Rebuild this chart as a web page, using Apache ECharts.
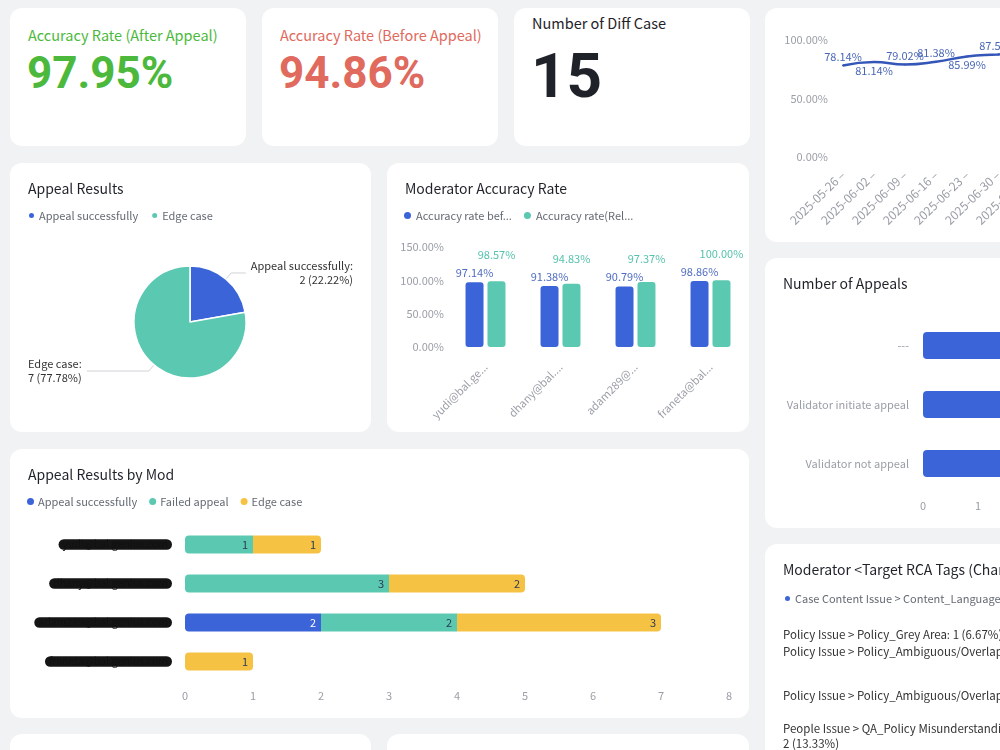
<!DOCTYPE html>
<html>
<head>
<meta charset="utf-8">
<script src="https://cdn.jsdelivr.net/npm/echarts@6.0.0/dist/echarts.min.js"></script>
<style>
html, body { margin: 0; padding: 0; width: 1000px; height: 750px; overflow: hidden; background: #f1f2f4; }
body { position: relative; font-family: "Noto Sans CJK SC", "Noto Sans", sans-serif; }
.card { position: absolute; background: #fff; border-radius: 12px; overflow: hidden; }
.chart { position: absolute; left: 0; top: 0; width: 100%; height: 100%; }
.kpi-title { position: absolute; left: 18px; font-size: 14.5px; white-space: nowrap; }
.kpi-value { position: absolute; left: 17px; font-family: Roboto, "Liberation Sans", sans-serif; font-weight: 700; line-height: 1; white-space: nowrap; }
</style>
</head>
<body>

<div class="card" style="left:10px;top:8px;width:236px;height:138px">
  <div class="kpi-title" style="top:16px;color:#4cb93d">Accuracy Rate (After Appeal)</div>
  <div class="kpi-value" id="kpiAfter" style="top:43px;font-size:44px;color:#4cb93d"></div>
</div>
<div class="card" style="left:262px;top:8px;width:236px;height:138px">
  <div class="kpi-title" style="top:16px;color:#e06a5e">Accuracy Rate (Before Appeal)</div>
  <div class="kpi-value" id="kpiBefore" style="top:43px;font-size:44px;color:#e06a5e"></div>
</div>
<div class="card" style="left:514px;top:8px;width:236px;height:138px">
  <div class="kpi-title" style="top:4px;color:#1f2329">Number of Diff Case</div>
  <div class="kpi-value" id="kpiDiff" style="top:37px;font-size:62px;color:#1f2329"></div>
</div>

<div class="card" style="left:765px;top:8px;width:300px;height:234px"><div class="chart" id="weekly"></div></div>
<div class="card" style="left:10px;top:163px;width:361px;height:269px"><div class="chart" id="appealPie"></div></div>
<div class="card" style="left:387px;top:163px;width:362px;height:269px"><div class="chart" id="modRate"></div></div>
<div class="card" style="left:765px;top:258px;width:520px;height:270px"><div class="chart" id="appealCount"></div></div>
<div class="card" style="left:10px;top:449px;width:739px;height:269px"><div class="chart" id="byMod"></div></div>
<div class="card" style="left:765px;top:544px;width:620px;height:270px"><div class="chart" id="rcaPie"></div></div>
<div class="card" style="left:10px;top:734px;width:361px;height:200px"></div>
<div class="card" style="left:387px;top:734px;width:362px;height:200px"></div>

<script>
// KPI values
const accAfter = '97.95%';
const accBefore = '94.86%';
const diffCases = 15;

// weekly accuracy trend
const weeks = ['2025-05-26', '2025-06-02', '2025-06-09', '2025-06-16', '2025-06-23', '2025-06-30', '2025-07-07'];
const weekRate = [78.14, 81.14, 79.02, 81.38, 85.99, 87.56, 89.40];

// appeal results pie
const appealNames = ['Appeal successfully', 'Edge case'];
const appealValues = [2, 7];

// moderator accuracy
const mods = ['yudi@bal.genius.com', 'dhany@bal.genius.com', 'adam289@bal.genius.com', 'franeta@bal.genius.com'];
const rateBefore = [97.14, 91.38, 90.79, 98.86];
const rateAfter = [98.57, 94.83, 97.37, 100.00];

// appeal results by mod
const resultNames = ['Appeal successfully', 'Failed appeal', 'Edge case'];
const modSuccess = [0, 0, 2, 0];
const modFailed = [1, 3, 2, 0];
const modEdge = [1, 2, 3, 1];

// number of appeals
const appealTypes = ['Validator not appeal', 'Validator initiate appeal', '---'];
const appealTypeCount = [5, 6, 4];

// RCA tags
const rcaNames = [
  'Case Content Issue > Content_Language Barrier',
  'Case Content Issue > Content_Unclear Evidence',
  'People Issue > QA_Policy Misunderstanding',
  'Policy Issue > Policy_Ambiguous/Overlapping Policy',
  'Policy Issue > Policy_Ambiguous/Overlapping Guideline',
  'Policy Issue > Policy_Grey Area'
];
const rcaValues = [5, 3, 2, 2, 2, 1];

const FONT = '"Noto Sans CJK SC", "Noto Sans", sans-serif';
const BLUE = '#3b64d9';
const TEAL = '#5bc9b1';
const YELLOW = '#f6c244';
const AXIS_GRAY = '#9a9ea6';

document.getElementById('kpiAfter').textContent = accAfter;
document.getElementById('kpiBefore').textContent = accBefore;
document.getElementById('kpiDiff').textContent = diffCases;

function cardTitle(text) {
  return { text: text, left: 13, top: 14, textStyle: { fontSize: 14, fontWeight: 'normal', color: '#1f2329', fontFamily: FONT } };
}
function cardLegend(extra) {
  return Object.assign({
    left: 12, top: 42, icon: 'circle', itemWidth: 7, itemHeight: 7, itemGap: 12,
    textStyle: { fontSize: 11, color: '#646a73', fontFamily: FONT, padding: [0, 0, 0, -1] }
  }, extra || {});
}
const pct = v => Number(v).toFixed(2) + '%';

// weekly trend
const weekly = echarts.init(document.getElementById('weekly'));
const lineLabelSide = ['top', 'bottom', 'top', 'top', 'bottom', 'top', 'top'];
weekly.setOption({
  textStyle: { fontFamily: FONT },
  animation: false,
  grid: { left: 78, top: 32, width: 186, height: 117 },
  xAxis: {
    type: 'category', data: weeks, boundaryGap: false,
    axisLine: { show: false }, axisTick: { show: false },
    axisLabel: { rotate: 44, interval: 0, fontSize: 12, color: AXIS_GRAY, margin: 16, formatter: v => v + ' –' }
  },
  yAxis: {
    type: 'value', min: 0, max: 100, interval: 50,
    splitLine: { show: false },
    axisLabel: { formatter: pct, color: AXIS_GRAY, fontSize: 11, margin: 15 }
  },
  series: [{
    type: 'line', smooth: true, symbol: 'circle', symbolSize: 2,
    data: weekRate.map((v, i) => ({ value: v, label: { position: lineLabelSide[i] } })),
    lineStyle: { width: 2.5, color: '#3456b8' },
    itemStyle: { color: '#3456b8' },
    label: { show: true, fontSize: 11, color: '#4a67b5', distance: 2, formatter: p => pct(p.value) }
  }]
});

// appeal results pie
const appealPie = echarts.init(document.getElementById('appealPie'));
appealPie.setOption({
  textStyle: { fontFamily: FONT },
  animation: false,
  color: [BLUE, TEAL],
  title: cardTitle('Appeal Results'),
  legend: cardLegend(),
  series: [{
    type: 'pie', radius: 56, center: [180, 159], startAngle: 90,
    itemStyle: { borderColor: '#fff', borderWidth: 1.5 },
    data: appealNames.map((n, i) => ({ name: n, value: appealValues[i] })),
    label: { formatter: '{b}:\n{c} ({d}%)', fontSize: 11, color: '#333', lineHeight: 14, alignTo: 'edge', edgeDistance: 18 },
    labelLine: { length: 8, length2: 10, lineStyle: { color: '#d0d3d8' } }
  }]
});

// moderator accuracy rate; the second label sits above the first one
const modRate = echarts.init(document.getElementById('modRate'));
const barLabel = color => ({ show: true, position: 'top', fontSize: 11, color: color, distance: 4, formatter: p => pct(p.value) });
modRate.setOption({
  textStyle: { fontFamily: FONT },
  animation: false,
  title: cardTitle('Moderator Accuracy Rate'),
  legend: cardLegend({ textStyle: { fontSize: 11, color: '#646a73', fontFamily: FONT, width: 100, overflow: 'truncate' } }),
  grid: { left: 61, top: 84, width: 300, height: 100 },
  xAxis: {
    type: 'category', data: mods,
    axisLine: { show: false }, axisTick: { show: false },
    axisLabel: { rotate: 45, interval: 0, fontSize: 11, color: AXIS_GRAY, margin: 18, width: 74, overflow: 'truncate' }
  },
  yAxis: {
    type: 'value', min: 0, max: 150, interval: 50,
    splitLine: { show: false },
    axisLabel: { formatter: pct, color: AXIS_GRAY, fontSize: 11, margin: 4 }
  },
  series: [
    { name: 'Accuracy rate before appeal', type: 'bar', data: rateBefore, barWidth: 18, barGap: '22%',
      itemStyle: { color: BLUE, borderRadius: 3 }, label: barLabel('#4f6cc0') },
    { name: 'Accuracy rate(Relative after appeal)', type: 'bar', barWidth: 18,
      data: rateAfter.map((v, i) => ({ value: v, label: { distance: Math.max(5, 22 + (rateBefore[i] - v) * 0.667) } })),
      itemStyle: { color: TEAL, borderRadius: 3 }, label: barLabel('#55c2ad') }
  ]
});

// appeal results by mod (stacked, rounded at the ends of each row)
const byMod = echarts.init(document.getElementById('byMod'));
const stacks = [modSuccess, modFailed, modEdge];
const stackColors = [BLUE, TEAL, YELLOW];
function roundedStack(k) {
  return stacks[k].map((v, row) => {
    const present = stacks.map(s => s[row] > 0);
    const first = present.indexOf(true);
    const last = present.lastIndexOf(true);
    const r = 4;
    const radius = [k === first ? r : 0, k === last ? r : 0, k === last ? r : 0, k === first ? r : 0];
    return { value: v, itemStyle: { borderRadius: radius } };
  });
}
byMod.setOption({
  textStyle: { fontFamily: FONT },
  animation: false,
  title: cardTitle('Appeal Results by Mod'),
  legend: cardLegend(),
  grid: { left: 175, top: 76, width: 544, height: 156 },
  xAxis: {
    type: 'value', min: 0, max: 8, interval: 1,
    splitLine: { show: false },
    axisLabel: { color: AXIS_GRAY, fontSize: 11, margin: 9 }
  },
  yAxis: {
    type: 'category', data: mods, inverse: true,
    axisLine: { show: false }, axisTick: { show: false },
    axisLabel: { fontSize: 10.5, color: '#111', backgroundColor: '#151515', borderRadius: 6, padding: [0, 4], margin: 13 }
  },
  series: resultNames.map((n, k) => ({
    name: n, type: 'bar', stack: 'all', barWidth: 18,
    data: roundedStack(k),
    itemStyle: { color: stackColors[k] },
    label: { show: true, position: 'insideRight', fontSize: 11, color: k === 0 ? '#fff' : '#2b3a55', formatter: p => p.value > 0 ? p.value : '' }
  }))
});

// number of appeals
const appealCount = echarts.init(document.getElementById('appealCount'));
appealCount.setOption({
  textStyle: { fontFamily: FONT },
  animation: false,
  title: cardTitle('Number of Appeals'),
  grid: { left: 158, top: 58, width: 330, height: 177 },
  xAxis: {
    type: 'value', min: 0, max: 6, interval: 1,
    splitLine: { show: false },
    axisLabel: { color: AXIS_GRAY, fontSize: 11, margin: 7 }
  },
  yAxis: {
    type: 'category', data: appealTypes,
    axisLine: { show: false }, axisTick: { show: false },
    axisLabel: { color: AXIS_GRAY, fontSize: 11, margin: 14 }
  },
  series: [{ type: 'bar', data: appealTypeCount, barWidth: 27, itemStyle: { color: BLUE, borderRadius: 4 } }]
});

// RCA tags pie; the People label puts its count on a second line
const rcaPie = echarts.init(document.getElementById('rcaPie'));
const rcaTotal = rcaValues.reduce((a, b) => a + b, 0);
const rcaLabel = p => {
  const share = p.value + ' (' + (p.value / rcaTotal * 100).toFixed(2) + '%)';
  return p.name.indexOf('People') === 0 ? p.name + ':\n' + share : p.name + ': ' + share;
};
rcaPie.setOption({
  textStyle: { fontFamily: FONT },
  animation: false,
  color: [BLUE, TEAL, YELLOW, '#f08a5d', '#8d6ad8', '#e5627c'],
  title: cardTitle('Moderator <Target RCA Tags (Changed)'),
  legend: cardLegend({ type: 'scroll', left: 13 }),
  series: [{
    type: 'pie', radius: 45, center: [420, 146], startAngle: 90,
    itemStyle: { borderColor: '#fff', borderWidth: 1 },
    data: rcaNames.map((n, i) => ({ name: n, value: rcaValues[i] })),
    label: { formatter: rcaLabel, fontSize: 11.5, color: '#333', lineHeight: 15, alignTo: 'edge', edgeDistance: 18, overflow: 'truncate' },
    labelLine: { length: 12, length2: 12, lineStyle: { color: '#d0d3d8' } }
  }]
});
</script>
</body>
</html>
